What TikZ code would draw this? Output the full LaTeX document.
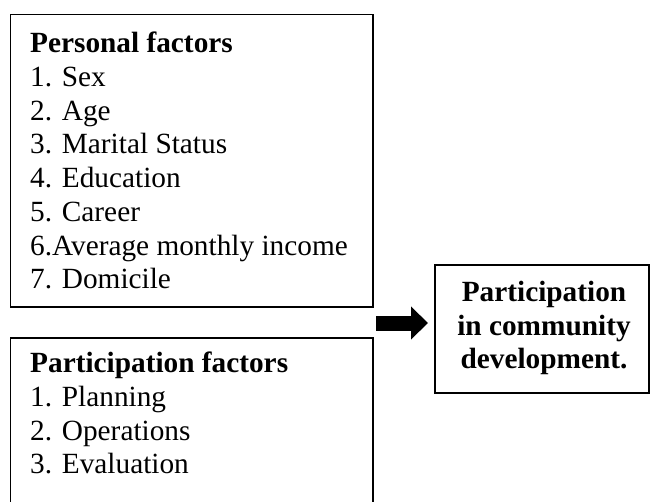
\documentclass[tikz,border=0pt]{standalone}
\usepackage{fontspec}
\setmainfont{Liberation Serif}
\usetikzlibrary{arrows.meta}
\begin{document}
\begin{tikzpicture}[x=1pt,y=-1pt,
  box/.style={draw=black, line width=1.5pt, inner sep=0pt, anchor=north west},
  listtext/.style={inner sep=0pt, anchor=north west, align=left,
    font=\fontsize{29.3}{33.7}\selectfont},
  outtext/.style={inner sep=0pt, align=center,
    font=\fontsize{29.3}{33.7}\selectfont\bfseries},
  bigarrow/.style={line width=15pt, -{Triangle[width=32pt,length=17pt]}}]
\useasboundingbox (0,0) rectangle (651,501);
\fill[white] (0,0) rectangle (651,501);
\node[box, minimum width=362.5pt, minimum height=292.5pt] (b1) at (9.5,13.5) {};
\node[box, minimum width=362.5pt, minimum height=180pt] (b2) at (9.5,337) {};
\node[box, minimum width=214pt, minimum height=128pt] (b3) at (434,264) {};
\node[listtext] (t1) at (30,32) {\textbf{Personal factors}\\1. Sex\\2. Age\\3. Marital Status\\4. Education\\5. Career\\6.Average monthly income\\7. Domicile};
\node[listtext] (t2) at (30,352) {\textbf{Participation factors}\\1. Planning\\2. Operations\\3. Evaluation};
\node[outtext] (t3) at (544,328) {Participation\\in community\\development.};
\coordinate (as) at (376,323);
\draw[bigarrow, shorten >=6pt] (as) -- (as -| b3.west);
\end{tikzpicture}
\end{document}
